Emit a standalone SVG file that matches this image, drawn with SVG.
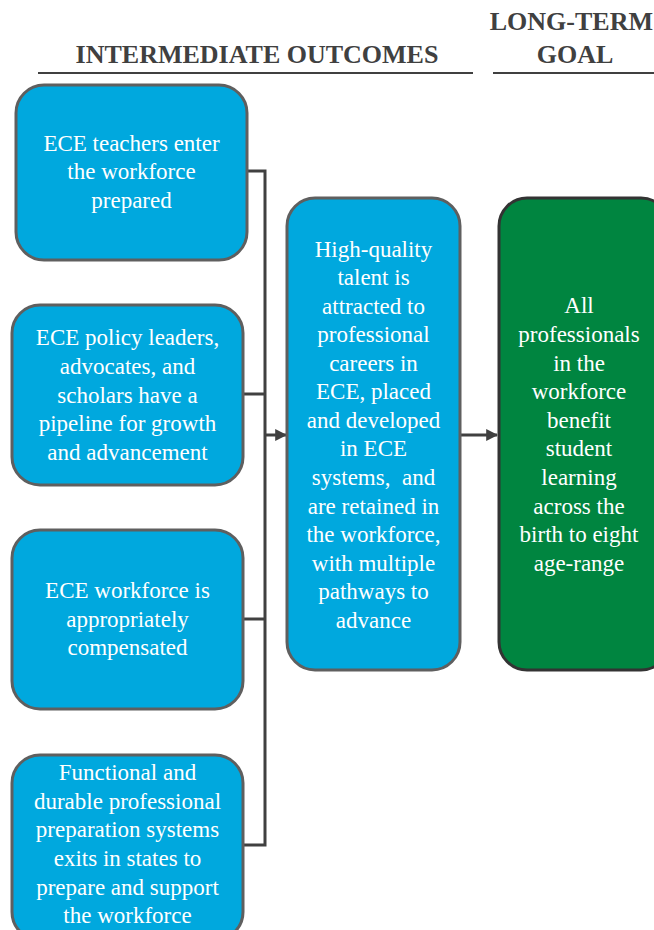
<svg xmlns="http://www.w3.org/2000/svg" width="654" height="930" viewBox="0 0 654 930">
<defs>
<style>
.hdr{font-family:"Liberation Serif","Times New Roman",serif;font-weight:bold;font-size:26px;fill:#404040}
.rule{stroke:#404040;stroke-width:2}
.blue{fill:#00a8de;stroke:#5f5f5f;stroke-width:3}
.green{fill:#008540;stroke:#333333;stroke-width:3}
.t{font-family:"Liberation Serif","Times New Roman",serif;font-size:23px;fill:#ffffff;text-anchor:middle}
.con{fill:none;stroke:#404040;stroke-width:3}
</style>
<marker id="ah" viewBox="0 0 10 10" refX="9" refY="5" markerWidth="4" markerHeight="4" orient="auto" markerUnits="strokeWidth">
<path d="M0,0 L10,5 L0,10 z" fill="#404040"/>
</marker>
</defs>
<rect width="654" height="930" fill="#ffffff"/>
<g id="headers">
<text class="hdr" x="257" y="63" text-anchor="middle">INTERMEDIATE OUTCOMES</text>
<line class="rule" x1="38" y1="73" x2="473" y2="73"/>
<text class="hdr" x="653" y="30" text-anchor="end" font-size="25">LONG-TERM</text>
<text class="hdr" x="575" y="63" text-anchor="middle">GOAL</text>
<line class="rule" x1="493" y1="73" x2="654" y2="73"/>
</g>
<g id="connectors">
<polyline class="con" points="247,171 265,171 265,845 243,845"/>
<line class="con" x1="243" y1="394" x2="265" y2="394"/>
<line class="con" x1="243" y1="619" x2="265" y2="619"/>
<line class="con" x1="265" y1="435" x2="286" y2="435" marker-end="url(#ah)"/>
<line class="con" x1="460" y1="435" x2="497" y2="435" marker-end="url(#ah)"/>
</g>
<g id="box1">
<rect class="blue" x="16" y="85" width="231" height="175" rx="28"/>
<text class="t" x="131.5" y="151">ECE teachers enter</text>
<text class="t" x="131.5" y="179">the workforce</text>
<text class="t" x="131.5" y="208">prepared</text>
</g>
<g id="box2">
<rect class="blue" x="12" y="305" width="231" height="180" rx="28"/>
<text class="t" x="127.5" y="345">ECE policy leaders,</text>
<text class="t" x="127.5" y="374">advocates, and</text>
<text class="t" x="127.5" y="403">scholars have a</text>
<text class="t" x="127.5" y="431">pipeline for growth</text>
<text class="t" x="127.5" y="460">and advancement</text>
</g>
<g id="box3">
<rect class="blue" x="12" y="530" width="231" height="179" rx="28"/>
<text class="t" x="127.5" y="598">ECE workforce is</text>
<text class="t" x="127.5" y="627">appropriately</text>
<text class="t" x="127.5" y="655">compensated</text>
</g>
<g id="box4">
<rect class="blue" x="12" y="755" width="231" height="185" rx="28"/>
<text class="t" x="127.5" y="780">Functional and</text>
<text class="t" x="127.5" y="809">durable professional</text>
<text class="t" x="127.5" y="837">preparation systems</text>
<text class="t" x="127.5" y="866">exits in states to</text>
<text class="t" x="127.5" y="895">prepare and support</text>
<text class="t" x="127.5" y="923">the workforce</text>
</g>
<g id="center">
<rect class="blue" x="287" y="198" width="173" height="472" rx="28"/>
<text class="t" x="373.5" y="257">High-quality</text>
<text class="t" x="373.5" y="285">talent is</text>
<text class="t" x="373.5" y="314">attracted to</text>
<text class="t" x="373.5" y="342">professional</text>
<text class="t" x="373.5" y="371">careers in</text>
<text class="t" x="373.5" y="399">ECE, placed</text>
<text class="t" x="373.5" y="428">and developed</text>
<text class="t" x="373.5" y="456">in ECE</text>
<text class="t" x="373.5" y="485" xml:space="preserve">systems,  and</text>
<text class="t" x="373.5" y="514">are retained in</text>
<text class="t" x="373.5" y="542">the workforce,</text>
<text class="t" x="373.5" y="571">with multiple</text>
<text class="t" x="373.5" y="599">pathways to</text>
<text class="t" x="373.5" y="628">advance</text>
</g>
<g id="goal">
<rect class="green" x="499" y="198" width="170" height="472" rx="28"/>
<text class="t" x="579" y="313">All</text>
<text class="t" x="579" y="342">professionals</text>
<text class="t" x="579" y="371">in the</text>
<text class="t" x="579" y="399">workforce</text>
<text class="t" x="579" y="428">benefit</text>
<text class="t" x="579" y="456">student</text>
<text class="t" x="579" y="485">learning</text>
<text class="t" x="579" y="514">across the</text>
<text class="t" x="579" y="542">birth to eight</text>
<text class="t" x="579" y="571">age-range</text>
</g>
</svg>
